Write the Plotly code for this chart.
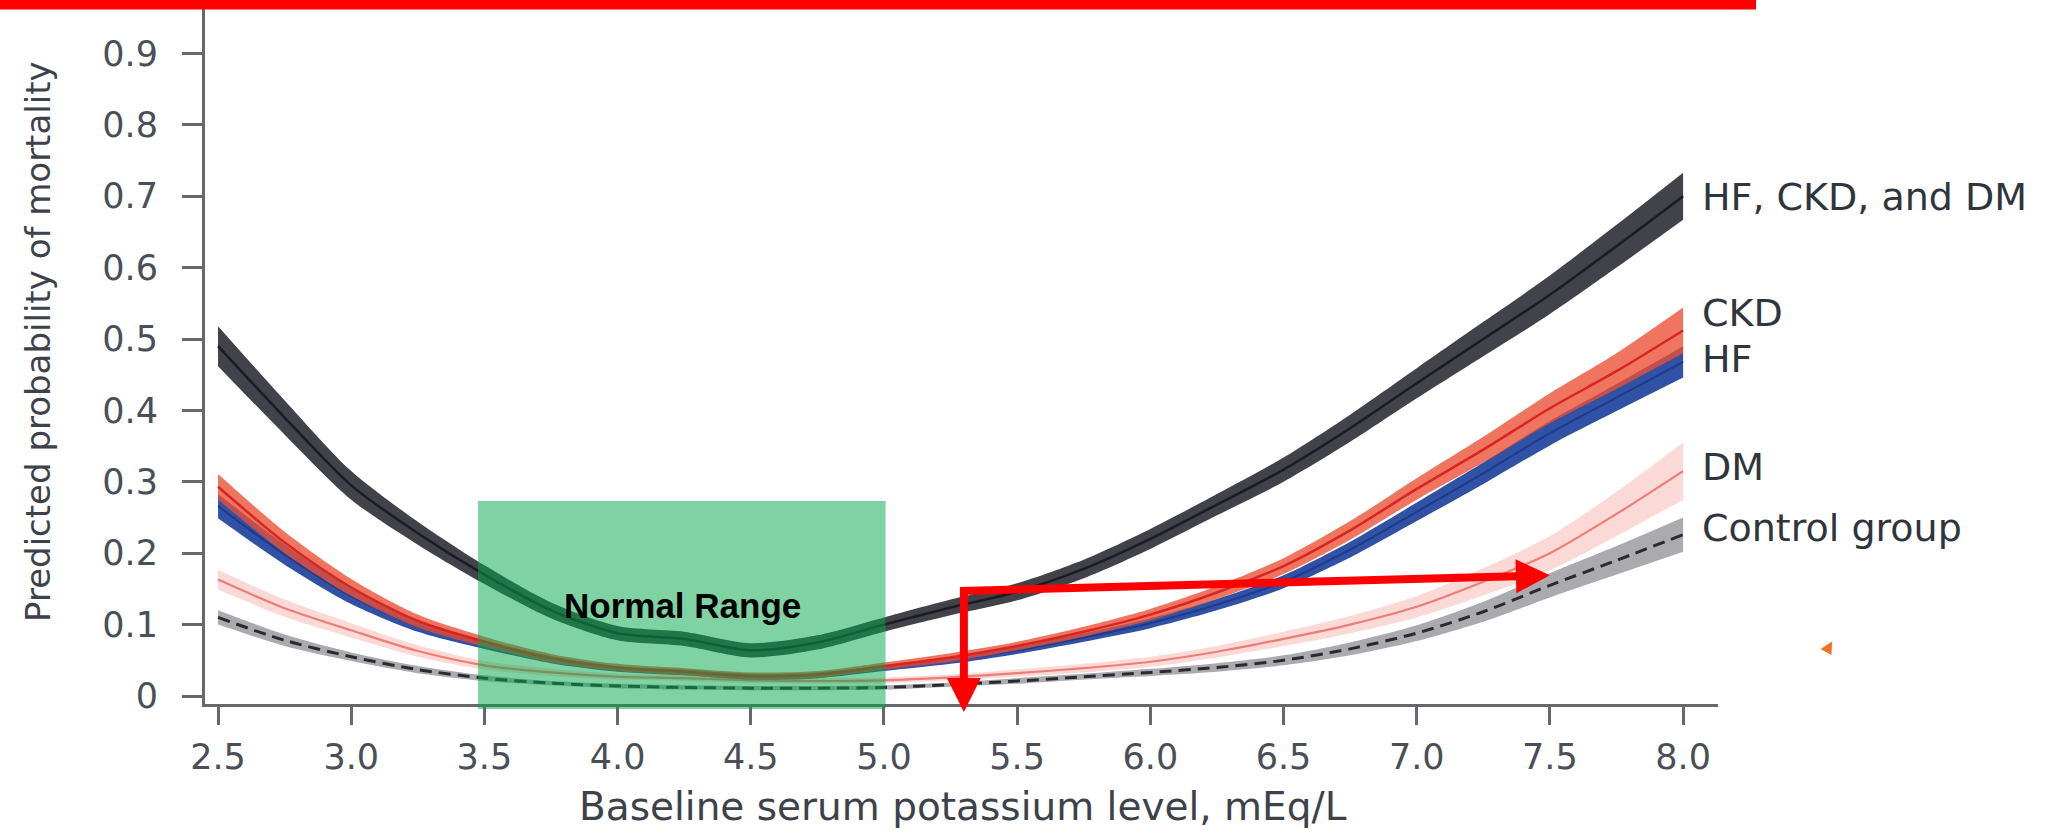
import plotly.graph_objects as go

# ---------------- data ----------------
potassium = [2.5, 2.75, 3.0, 3.25, 3.5, 3.75, 4.0, 4.25, 4.5, 4.75, 5.0, 5.25,
             5.5, 5.75, 6.0, 6.25, 6.5, 6.75, 7.0, 7.25, 7.5, 7.75, 8.0]

hf_ckd_dm = [0.49, 0.39, 0.295, 0.228, 0.17, 0.12, 0.088, 0.08, 0.064, 0.075, 0.10, 0.124,
             0.146, 0.178, 0.22, 0.268, 0.317, 0.375, 0.438, 0.50, 0.562, 0.63, 0.70]
hf_ckd_dm_ci = [0.028, 0.024, 0.02, 0.016, 0.013, 0.011, 0.01, 0.01, 0.01, 0.01, 0.01, 0.011,
                0.012, 0.013, 0.014, 0.015, 0.017, 0.019, 0.021, 0.024, 0.027, 0.03, 0.033]

ckd = [0.293, 0.215, 0.152, 0.105, 0.076, 0.053, 0.04, 0.034, 0.028, 0.03, 0.042, 0.054,
       0.07, 0.09, 0.114, 0.145, 0.182, 0.232, 0.29, 0.345, 0.403, 0.455, 0.512]
ckd_ci = [0.018, 0.015, 0.012, 0.009, 0.007, 0.006, 0.005, 0.005, 0.005, 0.005, 0.005, 0.006,
          0.006, 0.007, 0.008, 0.009, 0.011, 0.013, 0.015, 0.018, 0.021, 0.025, 0.032]

hf = [0.266, 0.198, 0.14, 0.098, 0.072, 0.051, 0.038, 0.033, 0.027, 0.029, 0.039, 0.05,
      0.064, 0.082, 0.102, 0.128, 0.16, 0.205, 0.258, 0.312, 0.368, 0.418, 0.468]
hf_ci = [0.017, 0.014, 0.011, 0.008, 0.006, 0.005, 0.004, 0.004, 0.004, 0.004, 0.004, 0.005,
         0.005, 0.006, 0.007, 0.008, 0.009, 0.011, 0.013, 0.015, 0.017, 0.019, 0.022]

dm = [0.163, 0.123, 0.092, 0.063, 0.043, 0.033, 0.027, 0.025, 0.022, 0.021, 0.022, 0.026,
      0.032, 0.039, 0.048, 0.062, 0.08, 0.10, 0.125, 0.16, 0.20, 0.255, 0.315]
dm_ci = [0.014, 0.012, 0.01, 0.008, 0.006, 0.005, 0.004, 0.004, 0.004, 0.004, 0.004, 0.004,
         0.005, 0.006, 0.007, 0.008, 0.01, 0.012, 0.015, 0.019, 0.024, 0.031, 0.04]

control = [0.11, 0.078, 0.055, 0.037, 0.025, 0.018, 0.014, 0.012, 0.011, 0.011, 0.012, 0.016,
           0.021, 0.027, 0.033, 0.04, 0.05, 0.066, 0.088, 0.118, 0.155, 0.19, 0.226]
control_ci = [0.01, 0.008, 0.006, 0.005, 0.004, 0.003, 0.003, 0.003, 0.003, 0.003, 0.003, 0.003,
              0.004, 0.004, 0.005, 0.006, 0.007, 0.009, 0.011, 0.014, 0.017, 0.02, 0.024]

x_tick_vals = [2.5, 3.0, 3.5, 4.0, 4.5, 5.0, 5.5, 6.0, 6.5, 7.0, 7.5, 8.0]
x_tick_text = ["2.5", "3.0", "3.5", "4.0", "4.5", "5.0", "5.5", "6.0", "6.5", "7.0", "7.5", "8.0"]
y_tick_vals = [0, 0.1, 0.2, 0.3, 0.4, 0.5, 0.6, 0.7, 0.8, 0.9]
y_tick_text = ["0", "0.1", "0.2", "0.3", "0.4", "0.5", "0.6", "0.7", "0.8", "0.9"]

series_labels = ["HF, CKD, and DM", "CKD", "HF", "DM", "Control group"]
label_y = [0.699, 0.536, 0.472, 0.321, 0.235]

normal_range = [3.476, 5.006]
normal_range_top = 0.273

# ---------------- figure ----------------
XMIN, XMAX = 2.451, 8.131
YMIN, YMAX = -0.0112, 0.9748
L, R, T, B = 205, 345, 0, 131
W, H = 2063, 835
PW, PH = W - L - R, H - T - B

def ypaper(px):
    return (H - B - px) / PH

def xpaper(px):
    return (px - L) / PW

fig = go.Figure()

SM = 0.8

def band(x, y, ci, fill, line_color, lw, dash="solid"):
    lo = [a - b for a, b in zip(y, ci)]
    hi = [a + b for a, b in zip(y, ci)]
    fig.add_trace(go.Scatter(x=x, y=lo, mode="lines", hoverinfo="skip", showlegend=False,
                             line=dict(width=0, shape="spline", smoothing=SM, color=fill)))
    fig.add_trace(go.Scatter(x=x, y=hi, mode="lines", hoverinfo="skip", showlegend=False,
                             fill="tonexty", fillcolor=fill,
                             line=dict(width=0, shape="spline", smoothing=SM, color=fill)))
    fig.add_trace(go.Scatter(x=x, y=y, mode="lines", showlegend=False,
                             line=dict(width=lw, color=line_color, dash=dash,
                                       shape="spline", smoothing=SM)))

band(potassium, control, control_ci, "rgba(115,115,122,0.6)", "#2a2b30", 3, "12px,7px")
band(potassium, dm, dm_ci, "rgba(246,165,160,0.42)", "rgba(236,120,115,0.95)", 2.2)
band(potassium, hf, hf_ci, "rgba(32,66,156,0.92)", "#1d3a8c", 2)
band(potassium, ckd, ckd_ci, "rgba(236,78,52,0.78)", "#d8251f", 2.5)
band(potassium, hf_ckd_dm, hf_ckd_dm_ci, "rgba(55,56,64,0.95)", "#1b1c21", 2.5)

TICKFONT = dict(family="DejaVu Sans", size=35, color="#4a4f57")

fig.update_layout(
    width=W, height=H,
    margin=dict(l=L, r=R, t=T, b=B, pad=0),
    paper_bgcolor="white", plot_bgcolor="white",
    showlegend=False,
    xaxis=dict(range=[XMIN, XMAX], showgrid=False, zeroline=False,
               showline=True, linecolor="#66686d", linewidth=3,
               ticks="outside", ticklen=18, tickwidth=2.5, tickcolor="#66686d",
               tickvals=x_tick_vals, ticktext=x_tick_text, tickfont=TICKFONT,
               ticklabelstandoff=2),
    yaxis=dict(range=[YMIN, YMAX], showgrid=False, zeroline=False,
               showline=True, linecolor="#66686d", linewidth=3,
               ticks="outside", ticklen=20, tickwidth=2.5, tickcolor="#66686d",
               tickvals=y_tick_vals, ticktext=y_tick_text, tickfont=TICKFONT,
               ticklabelstandoff=17),
)

shapes = []
# normal range highlight
shapes.append(dict(type="rect", xref="x", yref="paper",
                   x0=normal_range[0], x1=normal_range[1],
                   y0=ypaper(709), y1=(normal_range_top - YMIN) / (YMAX - YMIN),
                   fillcolor="rgba(0,168,72,0.5)", line=dict(width=0), layer="above"))
# red bar at top
shapes.append(dict(type="rect", xref="paper", yref="paper",
                   x0=xpaper(0), x1=xpaper(1756), y0=ypaper(9.5), y1=ypaper(-2),
                   fillcolor="#ff0000", line=dict(width=0), layer="above"))
fig.update_layout(shapes=shapes)

ann = []
for t, yv in zip(series_labels, label_y):
    ann.append(dict(text=t, xref="paper", yref="y", x=xpaper(1700), y=yv,
                    xanchor="left", yanchor="middle", showarrow=False,
                    font=dict(family="DejaVu Sans", size=38, color="#2f353d")))

ann.append(dict(text="<b>Normal Range</b>", xref="x", yref="y", x=4.245, y=0.127,
                xanchor="center", yanchor="middle", showarrow=False,
                font=dict(family="Liberation Sans", size=35, color="#000000")))

ann.append(dict(text="Baseline serum potassium level, mEq/L", xref="paper", yref="paper",
                x=xpaper(963), y=ypaper(806), xanchor="center", yanchor="middle",
                showarrow=False, font=dict(family="DejaVu Sans", size=39, color="#3d424a")))
ann.append(dict(text="Predicted probability of mortality", xref="paper", yref="paper",
                x=xpaper(38), y=ypaper(342), xanchor="center", yanchor="middle",
                textangle=-90, showarrow=False,
                font=dict(family="DejaVu Sans", size=34, color="#3d424a")))

# red arrows
ann.append(dict(text="", xref="x", yref="y", x=7.5, y=0.169,
                axref="x", ayref="y", ax=5.28, ay=0.147,
                showarrow=True, arrowhead=2, arrowsize=0.85, arrowwidth=8,
                arrowcolor="#ff0000"))
ann.append(dict(text="", xref="x", yref="paper", x=5.30, y=ypaper(712),
                axref="pixel", ayref="pixel", ax=0, ay=-126,
                showarrow=True, arrowhead=2, arrowsize=0.85, arrowwidth=8,
                arrowcolor="#ff0000"))
# small orange marker
ann.append(dict(text="\u25B2", xref="paper", yref="paper", x=xpaper(1830), y=ypaper(645),
                xanchor="center", yanchor="middle", showarrow=False, textangle=30,
                font=dict(family="DejaVu Sans", size=16, color="#ef7422")))

fig.update_layout(annotations=ann)

fig.write_html("out.html",
               config={"displayModeBar": False},
               post_script="document.body.style.margin='0';document.body.style.padding='0';"
                           "document.body.style.overflow='hidden';")
